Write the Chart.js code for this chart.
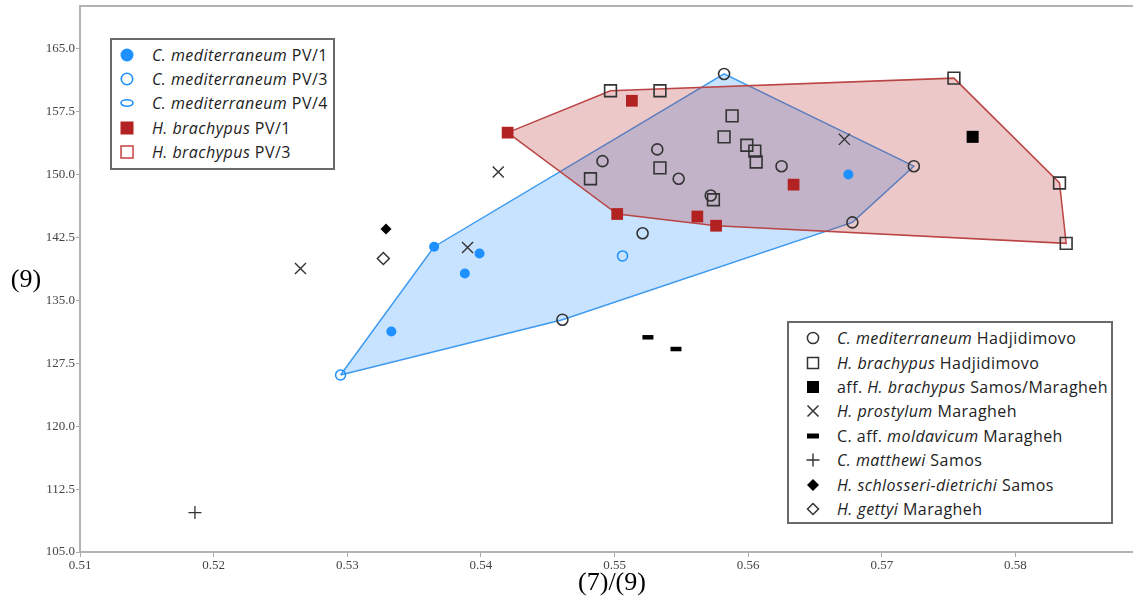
<!DOCTYPE html>
<html>
<head>
<meta charset="utf-8">
<script src="https://cdn.jsdelivr.net/npm/chart.js@4.4.1/dist/chart.umd.min.js"></script>
<style>
  body { margin: 0; background: #fff; }
  #wrap { position: relative; width: 1133px; height: 601px; }
  .legend {
    position: absolute; background: #fff; border: 2px solid #6a6a6a; box-sizing: border-box;
    font-family: "Open Sans", "Noto Sans", sans-serif; font-size: 16px; letter-spacing: 0.45px; color: #222; padding-top: 3px;
  }
  .legend .row { display: flex; align-items: center; white-space: nowrap; }
  .legend svg { width: 14px; height: 14px; flex: none; }
  #legend1 { left: 110px; top: 38px; width: 225px; height: 132px; padding-left: 8px; }
  #legend1 .row { height: 24.2px; }
  #legend1 svg { margin-right: 18px; }
  #legend2 { left: 787px; top: 321px; width: 326px; height: 203px; padding-left: 17px; }
  #legend2 .row { height: 24.4px; }
  #legend2 svg { margin-right: 17px; }
</style>
</head>
<body>
<div id="wrap">
  <canvas id="chart" width="1133" height="601"></canvas>
  <div class="legend" id="legend1"></div>
  <div class="legend" id="legend2"></div>
</div>
<script>
const xTicks = [0.51, 0.52, 0.53, 0.54, 0.55, 0.56, 0.57, 0.58];
const yTicks = [105, 112.5, 120, 127.5, 135, 142.5, 150, 157.5, 165];
const xTitle = '(7)/(9)';
const yTitle = '(9)';

// [ (7)/(9), (9) ]
const medPV1 = [[0.5365, 141.4], [0.5399, 140.6], [0.5388, 138.2], [0.5333, 131.3], [0.5675, 150.0]];
const medPV3 = [[0.5295, 126.1], [0.5506, 140.3]];
const braPV1 = [[0.5420, 155.0], [0.5513, 158.8], [0.5502, 145.3], [0.5562, 145.0], [0.5576, 143.9], [0.5634, 148.8]];
const medHad = [[0.5582, 162.0], [0.5491, 151.6], [0.5532, 153.0], [0.5548, 149.5], [0.5572, 147.5],
  [0.5521, 143.0], [0.5625, 151.0], [0.5724, 151.0], [0.5678, 144.3], [0.5461, 132.7]];
const braHad = [[0.5497, 160.0], [0.5534, 160.0], [0.5588, 157.0], [0.5582, 154.5], [0.5599, 153.5],
  [0.5605, 152.8], [0.5606, 151.5], [0.5534, 150.8], [0.5482, 149.5], [0.5574, 147.0],
  [0.5754, 161.5], [0.5833, 149.0], [0.5838, 141.8]];
const affBra = [[0.5768, 154.5]];
const prostylum = [[0.5672, 154.2], [0.5413, 150.3], [0.5390, 141.3], [0.5265, 138.8]];
const moldavicum = [[0.5525, 130.6], [0.5546, 129.2]];
const matthewi = [[0.5186, 109.7]];
const schlosseri = [[0.5329, 143.5]];
const gettyi = [[0.5327, 140.0]];

const legend1Items = [
  ['blueFilled', [['i', 'C. mediterraneum'], ['', ' PV/1']]],
  ['blueOpen', [['i', 'C. mediterraneum'], ['', ' PV/3']]],
  ['blueEllipse', [['i', 'C. mediterraneum'], ['', ' PV/4']]],
  ['redFilled', [['i', 'H. brachypus'], ['', ' PV/1']]],
  ['redOpen', [['i', 'H. brachypus'], ['', ' PV/3']]],
];
const legend2Items = [
  ['circle', [['i', 'C. mediterraneum'], ['', ' Hadjidimovo']]],
  ['square', [['i', 'H. brachypus'], ['', ' Hadjidimovo']]],
  ['squareFilled', [['', 'aff. '], ['i', 'H. brachypus'], ['', ' Samos/Maragheh']]],
  ['x', [['i', 'H. prostylum'], ['', ' Maragheh']]],
  ['dash', [['', 'C. aff. '], ['i', 'moldavicum'], ['', ' Maragheh']]],
  ['plus', [['i', 'C. matthewi'], ['', ' Samos']]],
  ['diamondFilled', [['i', 'H. schlosseri-dietrichi'], ['', ' Samos']]],
  ['diamondOpen', [['i', 'H. gettyi'], ['', ' Maragheh']]],
];

const BLUE = '#1e90ff';
const RED = '#b22222';
const INK = '#333';

const symbols = {
  blueFilled: `<circle cx="7" cy="7" r="6.5" fill="${BLUE}"/>`,
  blueOpen: `<circle cx="7" cy="7" r="5.7" fill="none" stroke="${BLUE}" stroke-width="1.6"/>`,
  blueEllipse: `<ellipse cx="7" cy="7" rx="6" ry="3.2" fill="none" stroke="${BLUE}" stroke-width="1.6"/>`,
  redFilled: `<rect x="0.5" y="0.5" width="13" height="13" fill="${RED}"/>`,
  redOpen: `<rect x="1" y="1" width="12" height="12" fill="none" stroke="#c94040" stroke-width="1.5"/>`,
  circle: `<circle cx="7" cy="7" r="5.6" fill="none" stroke="${INK}" stroke-width="1.5"/>`,
  square: `<rect x="1.5" y="1.5" width="11" height="11" fill="none" stroke="${INK}" stroke-width="1.5"/>`,
  squareFilled: `<rect x="1" y="1" width="12" height="12" fill="#000"/>`,
  x: `<path d="M1.5 1.5L12.5 12.5M12.5 1.5L1.5 12.5" stroke="${INK}" stroke-width="1.5"/>`,
  dash: `<rect x="1" y="4.5" width="12" height="5" fill="#000"/>`,
  plus: `<path d="M0.5 7H13.5M7 0.5V13.5" stroke="${INK}" stroke-width="1.4"/>`,
  diamondFilled: `<polygon points="7,1 13,7 7,13 1,7" fill="#000"/>`,
  diamondOpen: `<polygon points="7,1.5 12.5,7 7,12.5 1.5,7" fill="none" stroke="${INK}" stroke-width="1.5"/>`,
};

function buildLegend(id, items) {
  document.getElementById(id).innerHTML = items.map(([sym, parts]) => {
    const text = parts.map(([k, t]) => k === 'i' ? `<i>${t}</i>` : `<span>${t.replace(/ /g, '&nbsp;')}</span>`).join('');
    return `<div class="row"><svg viewBox="0 0 14 14">${symbols[sym]}</svg><span>${text}</span></div>`;
  }).join('');
}
buildLegend('legend1', legend1Items);
buildLegend('legend2', legend2Items);

function toXY(arr) {
  return arr.map(([x, y]) => ({ x, y }));
}

// convex hull (monotone chain), closed
function hull(pts) {
  const p = pts.slice().sort((a, b) => a[0] - b[0] || a[1] - b[1]);
  const cross = (o, a, b) => (a[0] - o[0]) * (b[1] - o[1]) - (a[1] - o[1]) * (b[0] - o[0]);
  const lower = [], upper = [];
  for (const q of p) {
    while (lower.length >= 2 && cross(lower[lower.length - 2], lower[lower.length - 1], q) <= 0) lower.pop();
    lower.push(q);
  }
  for (let i = p.length - 1; i >= 0; i--) {
    const q = p[i];
    while (upper.length >= 2 && cross(upper[upper.length - 2], upper[upper.length - 1], q) <= 0) upper.pop();
    upper.push(q);
  }
  upper.pop(); lower.pop();
  const h = lower.concat(upper);
  h.push(h[0]);
  return h;
}

function pts(label, data, style) {
  return Object.assign({ label, data: toXY(data), showLine: false }, style);
}

const frameAndTitles = {
  id: 'frameAndTitles',
  afterDraw(chart) {
    const { ctx, chartArea: a } = chart;
    ctx.save();
    ctx.strokeStyle = '#b3b3b3';
    ctx.lineWidth = 2;
    ctx.beginPath();
    ctx.moveTo(a.left - 1, a.top);
    ctx.lineTo(a.right, a.top);
    ctx.stroke();
    ctx.fillStyle = '#000';
    ctx.font = '26px "Liberation Serif", serif';
    ctx.textAlign = 'center';
    ctx.textBaseline = 'middle';
    ctx.fillText(yTitle, 26, 280);
    ctx.fillText(xTitle, 612, 583);
    ctx.restore();
  },
};

const tickFont = { family: '"Liberation Serif", serif', size: 13 };

new Chart(document.getElementById('chart'), {
  type: 'scatter',
  data: {
    datasets: [
      pts('H. schlosseri-dietrichi Samos', schlosseri, { pointStyle: 'rectRot', pointRadius: 5.5, backgroundColor: '#000', borderWidth: 0 }),
      pts('H. gettyi Maragheh', gettyi, { pointStyle: 'rectRot', pointRadius: 6, backgroundColor: '#fff', borderColor: INK, borderWidth: 1.5 }),
      pts('C. matthewi Samos', matthewi, { pointStyle: 'cross', pointRadius: 6.5, borderColor: INK, borderWidth: 1.3 }),
      pts('C. aff. moldavicum Maragheh', moldavicum, { pointStyle: 'line', pointRadius: 5.5, borderColor: '#000', borderWidth: 4.5 }),
      pts('H. prostylum Maragheh', prostylum, { pointStyle: 'crossRot', pointRadius: 7.8, borderColor: INK, borderWidth: 1.4 }),
      pts('aff. H. brachypus Samos/Maragheh', affBra, { pointStyle: 'rect', pointRadius: 8.5, backgroundColor: '#000', borderWidth: 0 }),
      pts('H. brachypus PV/1', braPV1, { pointStyle: 'rect', pointRadius: 8.3, backgroundColor: RED, borderWidth: 0 }),
      pts('C. mediterraneum PV/1', medPV1, { pointStyle: 'circle', pointRadius: 5, backgroundColor: BLUE, borderWidth: 0 }),
      pts('C. mediterraneum PV/3', medPV3, { pointStyle: 'circle', pointRadius: 5, backgroundColor: 'rgba(0,0,0,0)', borderColor: BLUE, borderWidth: 1.5 }),
      pts('H. brachypus Hadjidimovo', braHad, { pointStyle: 'rect', pointRadius: 8.3, backgroundColor: 'rgba(0,0,0,0)', borderColor: INK, borderWidth: 1.6 }),
      pts('C. mediterraneum Hadjidimovo', medHad, { pointStyle: 'circle', pointRadius: 5.5, backgroundColor: 'rgba(0,0,0,0)', borderColor: INK, borderWidth: 1.6 }),
      {
        type: 'line', label: 'H. brachypus hull', data: toXY(hull(braPV1.concat(braHad))),
        fill: 'shape', backgroundColor: 'rgba(178,34,34,0.25)', borderColor: '#bb4444', borderWidth: 1.5,
        pointRadius: 0, tension: 0,
      },
      {
        type: 'line', label: 'C. mediterraneum hull', data: toXY(hull(medPV1.concat(medPV3, medHad))),
        fill: 'shape', backgroundColor: 'rgba(30,144,255,0.25)', borderColor: '#3d9af0', borderWidth: 1.5,
        pointRadius: 0, tension: 0,
      },
    ],
  },
  options: {
    responsive: false,
    animation: false,
    layout: { autoPadding: false, padding: { top: 6, right: 0, left: 0, bottom: 0 } },
    plugins: { legend: { display: false }, tooltip: { enabled: false } },
    scales: {
      x: {
        type: 'linear', min: 0.51, max: 0.5888,
        afterBuildTicks: s => { s.ticks = xTicks.map(v => ({ value: v })); },
        afterFit: s => { s.height = 49; s.paddingLeft = 0; s.paddingRight = 0; },
        ticks: { font: tickFont, color: '#444', padding: 1, maxRotation: 0, callback: v => v.toFixed(2) },
        grid: { drawOnChartArea: false, color: '#aaa', tickLength: 5 },
        border: { color: '#b3b3b3', width: 2 },
      },
      y: {
        type: 'linear', min: 105, max: 170.1,
        afterBuildTicks: s => { s.ticks = yTicks.map(v => ({ value: v })); },
        afterFit: s => { s.width = 80; s.paddingTop = 0; s.paddingBottom = 0; },
        ticks: { font: tickFont, color: '#444', padding: 1, callback: v => v.toFixed(1) },
        grid: { drawOnChartArea: false, color: '#aaa', tickLength: 4 },
        border: { color: '#b3b3b3', width: 2 },
      },
    },
  },
  plugins: [frameAndTitles],
});
</script>
</body>
</html>
